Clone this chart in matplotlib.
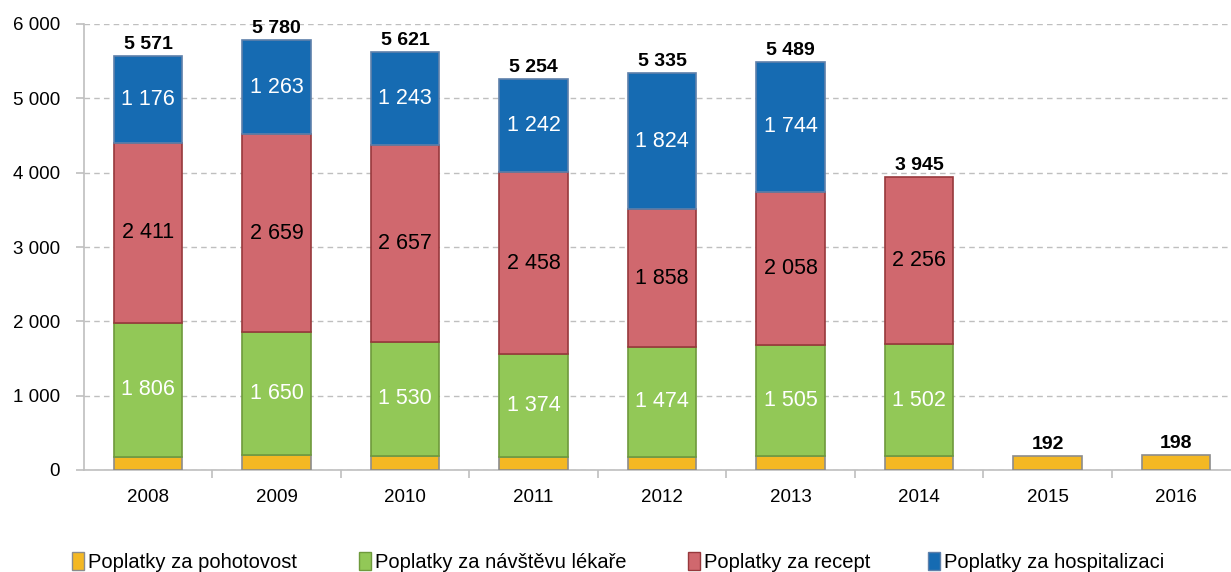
import matplotlib as mpl
import matplotlib.pyplot as plt
import numpy as np
from matplotlib.patches import Patch

mpl.rcParams.update({
    "font.family": ["Liberation Sans", "DejaVu Sans"],
    "font.size": 13,
})

years = ["2008", "2009", "2010", "2011", "2012", "2013", "2014", "2015", "2016"]
pohotovost = [178, 208, 191, 180, 179, 182, 187, 192, 198]
lekar = [1806, 1650, 1530, 1374, 1474, 1505, 1502, 0, 0]
recept = [2411, 2659, 2657, 2458, 1858, 2058, 2256, 0, 0]
hospitalizace = [1176, 1263, 1243, 1242, 1824, 1744, 0, 0, 0]
totals = [5571, 5780, 5621, 5254, 5335, 5489, 3945, 192, 198]

names = ["Poplatky za pohotovost", "Poplatky za návštěvu lékaře",
         "Poplatky za recept", "Poplatky za hospitalizaci"]
faces = ["#F4B823", "#92C857", "#D0686E", "#166BB2"]
edges = ["#8C8C8C", "#6E9A3C", "#97383C", "#5F80AA"]
label_colors = [None, "white", "black", "white"]


def fmt(v):
    return f"{v:,}".replace(",", " ")


fig = plt.figure(figsize=(12.31, 5.72), dpi=100)
ax = fig.add_axes([83.75 / 1231, 1 - 470 / 572, 1156.5 / 1231, 446 / 572])

x = np.arange(len(years))
w = 0.53
bottom = np.zeros(len(years))
series = [pohotovost, lekar, recept, hospitalizace]
for vals, fc, ec, lc in zip(series, faces, edges, label_colors):
    vals = np.array(vals, dtype=float)
    mask = vals > 0
    ax.bar(x[mask], vals[mask], w, bottom=bottom[mask], color=fc,
           edgecolor=ec, linewidth=1.2, zorder=3)
    if lc is not None:
        for xi, b, v in zip(x[mask], bottom[mask], vals[mask]):
            ax.text(xi, b + v / 2, fmt(int(v)), ha="center", va="center",
                    color=lc, fontsize=15.5, zorder=4)
    bottom += vals

for xi, t in zip(x, totals):
    ax.text(xi, t + 40, fmt(t), ha="center", va="bottom",
            fontsize=14, fontweight="bold", zorder=4)

ax.set_xlim(-0.5, len(years) - 0.5)
ax.set_ylim(0, 6000)
ax.set_yticks(np.arange(0, 6001, 1000))
ax.set_yticklabels([fmt(v) for v in range(0, 6001, 1000)], fontsize=13.5)
ax.set_xticks(x)
ax.set_xticklabels(years, fontsize=13.5)
ax.set_xticks(np.arange(0.5, len(years) - 0.5, 1), minor=True)
ax.tick_params(axis="x", which="major", length=0, pad=14)
ax.tick_params(axis="x", which="minor", length=6, color="#BFBFBF", width=1.2)
ax.tick_params(axis="y", length=6, color="#BFBFBF", width=1.2, pad=11)

ax.yaxis.grid(True, linestyle=(0, (4, 3)), color="#BFBFBF", linewidth=1.0, zorder=0)
ax.set_axisbelow(True)
for s in ["top", "right"]:
    ax.spines[s].set_visible(False)
for s in ["left", "bottom"]:
    ax.spines[s].set_color("#BFBFBF")
    ax.spines[s].set_linewidth(1.2)

# legend items placed individually (uneven spacing like the original)
leg_x = [72, 359, 688, 928]
for name, fc, ec, lx in zip(names, faces, edges, leg_x):
    leg = fig.legend(handles=[Patch(facecolor=fc, edgecolor=ec, label=name)],
                     loc="center left", bbox_to_anchor=(lx / 1231, 1 - 562 / 572),
                     frameon=False, handlelength=0.6, handleheight=1.0,
                     handletextpad=0.2, borderpad=0, borderaxespad=0,
                     fontsize=14.5)

fig.savefig("out.png", dpi=100)
